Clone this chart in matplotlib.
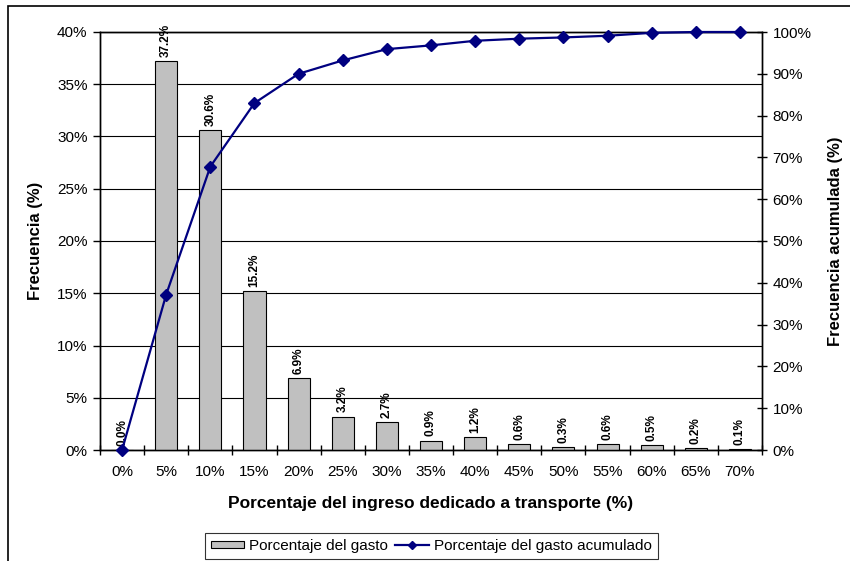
import numpy as np
import matplotlib
matplotlib.use('Agg')
import matplotlib.pyplot as plt
from matplotlib.patches import Rectangle
from matplotlib.ticker import PercentFormatter

plt.rcParams['font.family'] = ['Liberation Sans', 'DejaVu Sans']

# datos
categorias = ['0%', '5%', '10%', '15%', '20%', '25%', '30%', '35%',
              '40%', '45%', '50%', '55%', '60%', '65%', '70%']
gasto = [0.0, 37.2, 30.6, 15.2, 6.9, 3.2, 2.7, 0.9, 1.2, 0.6, 0.3, 0.6, 0.5, 0.2, 0.1]
acumulado = [0.0, 37.2, 67.8, 83.0, 90.0, 93.2, 95.9, 96.8, 97.9, 98.4, 98.7, 99.1, 99.8, 100.0, 100.0]

W, H = 850, 561
fig = plt.figure(figsize=(W/100, H/100), dpi=100)
ax = fig.add_axes([100/W, 1-450/H, (762-100)/W, (450-32)/H])
ax2 = ax.twinx()

x = np.arange(len(categorias))

# barras
ax.bar(x, gasto, width=0.5, color='#c0c0c0', edgecolor='black', linewidth=0.8, zorder=3,
       label='Porcentaje del gasto')
for xi, v in zip(x, gasto):
    ax.annotate(f'{v:.1f}%', (xi, v), xytext=(0, 3), textcoords='offset points',
                rotation=90, ha='center', va='bottom', fontsize=8.5, fontweight='bold',
                zorder=5)

ax.set_xlim(-0.5, len(categorias)-0.5)
ax.set_ylim(0, 40)
ax.set_yticks(np.arange(0, 41, 5))
ax.yaxis.set_major_formatter(PercentFormatter(decimals=0))
ax.set_xticks(x)
ax.set_xticklabels(categorias)
ax.set_xticks(np.arange(-0.5, len(categorias), 1), minor=True)
ax.tick_params(axis='x', which='major', length=0, labelsize=11, pad=11)
ax.tick_params(axis='x', which='minor', direction='inout', length=7, width=1)
ax.tick_params(axis='y', direction='out', length=5, width=1, labelsize=11, pad=4)
ax.yaxis.grid(True, color='black', linewidth=0.8, zorder=0)
ax.set_axisbelow(True)
ax.set_xlabel('Porcentaje del ingreso dedicado a transporte (%)', fontsize=12.5,
              fontweight='bold', labelpad=12)
ax.set_ylabel('Frecuencia (%)', fontsize=12, fontweight='bold', labelpad=10)

# linea acumulada
ax2.plot(x, acumulado, color='#000080', linewidth=1.6, marker='D', markersize=6,
         label='Porcentaje del gasto acumulado', clip_on=False, zorder=4)
ax2.set_ylim(0, 100)
ax2.set_yticks(np.arange(0, 101, 10))
ax2.yaxis.set_major_formatter(PercentFormatter(decimals=0))
ax2.tick_params(axis='y', direction='inout', length=7, width=1, labelsize=11, pad=4)
ax2.set_ylabel('Frecuencia acumulada (%)', fontsize=12, fontweight='bold', labelpad=12)

for a in (ax, ax2):
    for s in a.spines.values():
        s.set_linewidth(1)

# leyenda
h1, l1 = ax.get_legend_handles_labels()
h2, l2 = ax2.get_legend_handles_labels()
leg = fig.legend(h1 + h2, l1 + l2, loc='center', bbox_to_anchor=(431/W, 1-546/H),
                 ncol=2, fontsize=11, frameon=True, fancybox=False, edgecolor='black',
                 handlelength=2.2, handleheight=0.4, columnspacing=0.5, handletextpad=0.3,
                 borderpad=0.4, borderaxespad=0, markerscale=0.7)
leg.get_frame().set_linewidth(0.8)

# marco exterior
fig.add_artist(Rectangle((8/W, -0.1), 1.0, (H-6)/H + 0.1, transform=fig.transFigure,
                         fill=False, edgecolor='black', linewidth=1.2))

fig.savefig('out.png', dpi=100)
